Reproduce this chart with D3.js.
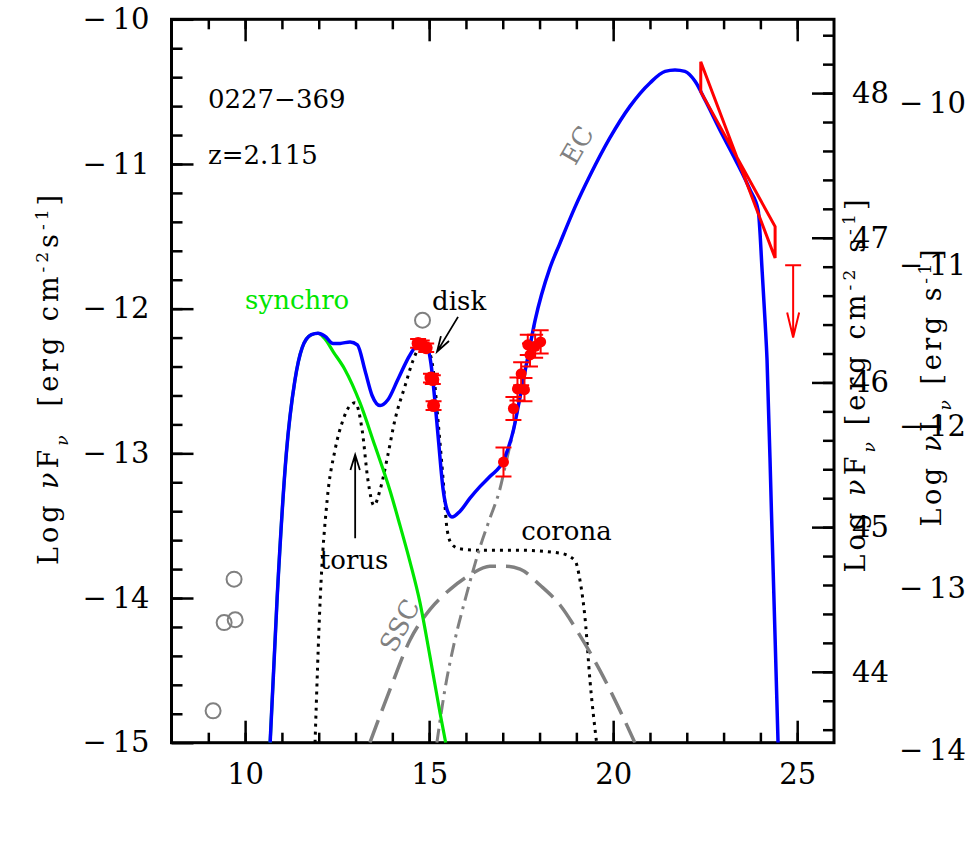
<!DOCTYPE html>
<html>
<head>
<meta charset="utf-8">
<script src="https://cdn.jsdelivr.net/npm/d3@7"></script>
<style>
body{margin:0;background:#fff;}
text{font-family:"DejaVu Serif",serif;fill:#000;white-space:pre;}
</style>
</head>
<body>
<script>
// log nu vs log nuFnu
var totX = [10.68,10.87,11.12,11.35,11.55,11.8,11.98,12.17,12.39,12.58,12.85,13.05,13.26,13.45,13.67,13.88,14.15,14.48,14.70,14.95,15.05,15.15,15.25,15.38,15.5,15.62,15.84,16.11,16.38,16.65,17.02,17.29,17.47,17.70,17.88,18.28,18.55,18.96,19.37,19.91,20.46,21.00,21.41,21.68,21.95,22.23,22.50,22.91,23.32,23.72,23.94,24.05,24.13,24.18,24.30,24.40,24.48];
var totY = [-15.0,-14.0,-13.0,-12.5,-12.27,-12.18,-12.17,-12.19,-12.24,-12.24,-12.23,-12.25,-12.43,-12.60,-12.67,-12.63,-12.49,-12.32,-12.25,-12.27,-12.38,-12.62,-12.9,-13.25,-13.40,-13.44,-13.40,-13.31,-13.23,-13.16,-13.05,-12.84,-12.61,-12.31,-12.08,-11.72,-11.55,-11.30,-11.08,-10.82,-10.60,-10.44,-10.36,-10.35,-10.36,-10.43,-10.56,-10.77,-10.97,-11.18,-11.32,-11.75,-12.10,-12.35,-13.40,-14.28,-15.0];

var synX = [10.68,10.87,11.12,11.35,11.55,11.8,11.98,12.17,12.4,12.71,13.12,13.53,13.94,14.21,14.48,14.75,15.02,15.30,15.45];
var synY = [-15,-14.0,-13.0,-12.5,-12.27,-12.18,-12.17,-12.21,-12.30,-12.42,-12.65,-12.95,-13.26,-13.50,-13.75,-14.03,-14.40,-14.80,-15.0];

var dotX = [11.9,12.04,12.23,12.44,12.66,12.85,12.99,13.18,13.34,13.50,13.67,13.88,14.07,14.35,14.56,14.75,14.97,15.11,15.24,15.38,15.49,15.62,15.84,16.38,17.47,18.56,18.96,19.10,19.24,19.37,19.55];
var dotY = [-15,-14.01,-13.32,-12.98,-12.77,-12.67,-12.65,-12.84,-13.19,-13.36,-13.25,-13.01,-12.77,-12.53,-12.36,-12.27,-12.29,-12.42,-12.77,-13.18,-13.53,-13.63,-13.66,-13.67,-13.67,-13.69,-13.74,-13.88,-14.15,-14.57,-15.0];

var sscX = [13.39,13.94,14.48,15.02,15.57,16.11,16.65,17.06,17.47,18.01,18.56,19.10,19.64,20.19,20.59];
var sscY = [-15,-14.63,-14.29,-14.08,-13.94,-13.84,-13.78,-13.78,-13.80,-13.91,-14.05,-14.26,-14.50,-14.78,-15.0];

var ecX = [15.21,15.43,15.70,15.98,16.38,16.65,16.92,17.1,17.29,17.47,17.70,17.88];
var ecY = [-15,-14.63,-14.29,-14.01,-13.65,-13.45,-13.25,-13.05,-12.84,-12.61,-12.31,-12.08];

var uvX = [14.70,14.80,14.92,15.05,15.10,15.12];
var uvY = [-12.24,-12.25,-12.27,-12.48,-12.49,-12.67];
var uvErr = [0.03,0.03,0.03,0.03,0.03,0.03];

var xrX = [17.02,17.29,17.40,17.50,17.59,17.68,17.74,17.88,18.03];
var xrY = [-13.06,-12.69,-12.555,-12.45,-12.56,-12.25,-12.32,-12.26,-12.23];
var xrErr = [0.10,0.08,0.08,0.08,0.08,0.07,0.08,0.08,0.08];

var archX = [9.13,9.43,9.73,9.70,14.82];
var archY = [-14.78,-14.17,-14.15,-13.87,-12.08];

var latX = [22.38,24.40];
var latHi = [-10.293,-11.433];
var latLo = [-10.50,-11.65];

var ulX = [24.89];
var ulY = [-11.70];
var ulTo = [-12.20];

var xMajor = [10,15,20,25];
var yMajor = [-15,-14,-13,-12,-11,-10];
var lMajor = [44,45,46,47,48];
var l2Major = [-14,-13,-12,-11,-10];

var svg = d3.select("body").append("svg").attr("width",975).attr("height",850);

var x = d3.scaleLinear().domain([8,26]).range([171.5,834]);
var y = d3.scaleLinear().domain([-15,-10]).range([742.7,19.3]);
var yL = d3.scaleLinear().domain([43.51,48.51]).range([742.7,19.3]);
var yL2 = d3.scaleLinear().domain([-14,-10]).range([750,102.5]);

var minus = function(d){ return d < 0 ? "\u2212\u2009" + Math.abs(d) : "" + d; };

function styleAxis(g, fs){
  g.select(".domain").remove();
  g.selectAll("line").attr("stroke","#000").attr("stroke-width",2.5);
  g.selectAll("text").style("font-family","DejaVu Serif").style("font-size",fs).attr("fill","#000");
}

// bottom and top
svg.append("g").attr("transform","translate(0,742.7)")
  .call(d3.axisBottom(x).tickValues(d3.range(9,26)).tickSize(-10).tickFormat(""))
  .call(styleAxis,"29px");
svg.append("g").attr("transform","translate(0,742.7)")
  .call(d3.axisBottom(x).tickValues(xMajor).tickSize(-22).tickPadding(21).tickFormat(d3.format("d")))
  .call(styleAxis,"29px");
svg.append("g").attr("transform","translate(0,19.3)")
  .call(d3.axisTop(x).tickValues(d3.range(9,26)).tickSize(-10).tickFormat(""))
  .call(styleAxis,"29px");
svg.append("g").attr("transform","translate(0,19.3)")
  .call(d3.axisTop(x).tickValues(xMajor).tickSize(-22).tickFormat(""))
  .call(styleAxis,"29px");

// left
svg.append("g").attr("transform","translate(171.5,0)")
  .call(d3.axisLeft(y).tickValues(d3.range(-14.8,-10.1,0.2)).tickSize(-11).tickFormat(""))
  .call(styleAxis,"29px");
svg.append("g").attr("transform","translate(171.5,0)")
  .call(d3.axisLeft(y).tickValues(yMajor).tickSize(-22).tickPadding(22).tickFormat(minus))
  .call(styleAxis,"29px");

// right (log nuLnu)
svg.append("g").attr("transform","translate(834,0)")
  .call(d3.axisRight(yL).tickValues(d3.range(43.6,48.5,0.2)).tickSize(-11).tickFormat(""))
  .call(styleAxis,"29px");
svg.append("g").attr("transform","translate(834,0)")
  .call(d3.axisRight(yL).tickValues(lMajor).tickSize(-22).tickPadding(18).tickFormat(d3.format("d")))
  .call(styleAxis,"29px");

// stray second right scale labels
svg.append("g").selectAll("text").data(l2Major).join("text")
  .attr("x",966).attr("y",function(d){ return yL2(d); }).attr("dy","0.35em")
  .attr("text-anchor","end").style("font-size","29px").text(minus);

// frame
svg.append("rect").attr("x",171.5).attr("y",19.3).attr("width",662.5).attr("height",723.4)
  .attr("fill","none").attr("stroke","#000").attr("stroke-width",3);

svg.append("clipPath").attr("id","plot").append("rect")
  .attr("x",171.5).attr("y",19.3).attr("width",662.5).attr("height",723.4);

var line = d3.line().x(function(d){ return x(d[0]); }).y(function(d){ return y(d[1]); }).curve(d3.curveMonotoneX);
var plot = svg.append("g").attr("clip-path","url(#plot)");

plot.append("path").attr("d",line(d3.zip(dotX,dotY))).attr("fill","none")
  .attr("stroke","#000").attr("stroke-width",3).attr("stroke-dasharray","3,5");
plot.append("path").attr("d",line(d3.zip(sscX,sscY))).attr("fill","none")
  .attr("stroke","#808080").attr("stroke-width",3.5).attr("stroke-dasharray","24,10");
plot.append("path").attr("d",line(d3.zip(ecX,ecY))).attr("fill","none")
  .attr("stroke","#808080").attr("stroke-width",3).attr("stroke-dasharray","14,6,3,6");
plot.append("path").attr("d",line(d3.zip(synX,synY))).attr("fill","none")
  .attr("stroke","#00e600").attr("stroke-width",3.2);
plot.append("path").attr("d",line(d3.zip(totX,totY))).attr("fill","none")
  .attr("stroke","#0000ff").attr("stroke-width",3.5);

// archival points
plot.selectAll("circle.arch").data(d3.zip(archX,archY)).join("circle").attr("class","arch")
  .attr("cx",function(d){ return x(d[0]); }).attr("cy",function(d){ return y(d[1]); }).attr("r",7.5)
  .attr("fill","none").attr("stroke","#808080").attr("stroke-width",2);

// red data with error bars
function errPoints(xs, ys, es, r){
  var data = d3.zip(xs,ys,es);
  var g = plot.append("g");
  g.selectAll("path").data(data).join("path")
    .attr("d",function(d){
      var cx = x(d[0]), y0 = y(d[1]-d[2]), y1 = y(d[1]+d[2]);
      return "M"+cx+","+y0+"V"+y1+"M"+(cx-8)+","+y0+"H"+(cx+8)+"M"+(cx-8)+","+y1+"H"+(cx+8);
    })
    .attr("stroke","#ff0000").attr("stroke-width",2).attr("fill","none");
  g.selectAll("circle").data(data).join("circle")
    .attr("cx",function(d){ return x(d[0]); }).attr("cy",function(d){ return y(d[1]); })
    .attr("r",r).attr("fill","#ff0000");
}
errPoints(uvX,uvY,uvErr,6.5);
errPoints(xrX,xrY,xrErr,5.5);

// Fermi bow-tie
plot.selectAll("path.bt").data([0]).join("path").attr("class","bt")
  .attr("d","M"+x(latX[0])+","+y(latHi[0])+"L"+x(latX[1])+","+y(latLo[1])+"L"+x(latX[1])+","+y(latHi[1])+"L"+x(latX[0])+","+y(latLo[0])+"Z")
  .attr("fill","none").attr("stroke","#ff0000").attr("stroke-width",3);

// upper limit
plot.selectAll("path.ul").data(d3.zip(ulX,ulY,ulTo)).join("path").attr("class","ul")
  .attr("d",function(d){
    var cx = x(d[0]), a = y(d[1]), b = y(d[2]);
    return "M"+(cx-8)+","+a+"H"+(cx+8)+"M"+cx+","+a+"V"+b+"M"+(cx-6)+","+(b-25)+"L"+cx+","+b+"L"+(cx+6)+","+(b-25);
  })
  .attr("fill","none").attr("stroke","#ff0000").attr("stroke-width",2);

// annotation arrows
var arrFrom = [[15.785,-12.057],[12.99,-13.587]];
var arrTo = [[15.215,-12.297],[12.99,-13.01]];
svg.append("g").selectAll("path").data(d3.zip(arrFrom,arrTo)).join("path")
  .attr("d",function(d){
    var x0 = x(d[0][0]), y0 = y(d[0][1]), x1 = x(d[1][0]), y1 = y(d[1][1]);
    var ang = Math.atan2(y1-y0,x1-x0), L = 16, s = 0.3;
    return "M"+x0+","+y0+"L"+x1+","+y1+
      "M"+(x1-L*Math.cos(ang-s))+","+(y1-L*Math.sin(ang-s))+"L"+x1+","+y1+
      "L"+(x1-L*Math.cos(ang+s))+","+(y1-L*Math.sin(ang+s));
  })
  .attr("fill","none").attr("stroke","#000").attr("stroke-width",1.8);

// labels
var annoText = ["0227\u2212369","z=2.115","synchro","disk","torus","corona","EC","SSC"];
var annoX = [8.99,8.99,10.0,15.08,12.03,17.5,19.02,14.2];
var annoY = [-10.61,-11.0,-12.0,-12.01,-13.80,-13.60,-10.87,-14.19];
var annoColor = ["#000","#000","#00e600","#000","#000","#000","#808080","#808080"];
var annoRot = [0,0,0,0,0,0,-60,-62];
var annoAnchor = ["start","start","start","start","start","start","middle","middle"];
svg.append("g").selectAll("text").data(annoText).join("text")
  .attr("transform",function(d,i){ return "translate("+x(annoX[i])+","+y(annoY[i])+") rotate("+annoRot[i]+")"; })
  .attr("dy",function(d,i){ return annoRot[i] ? "0.35em" : 0; })
  .attr("text-anchor",function(d,i){ return annoAnchor[i]; })
  .style("font-size","26px").style("fill",function(d,i){ return annoColor[i]; })
  .text(function(d){ return d; });

// axis titles
function fluxTitle(sel, q, unit){
  sel.append("tspan").text("Log ");
  sel.append("tspan").style("font-style","italic").text("\u03bd");
  sel.append("tspan").text(q);
  sel.append("tspan").attr("baseline-shift","sub").style("font-size","17px").style("font-style","italic").text("\u03bd");
  unit(sel);
}
var lt = svg.append("text").attr("transform","translate(58,380) rotate(-90)").attr("text-anchor","middle")
  .attr("textLength",370).attr("lengthAdjust","spacing").style("font-size","27px");
fluxTitle(lt,"F",function(s){
  s.append("tspan").text("  [erg cm");
  s.append("tspan").attr("baseline-shift","super").style("font-size","17px").text("-2");
  s.append("tspan").text("s");
  s.append("tspan").attr("baseline-shift","super").style("font-size","17px").text("-1");
  s.append("tspan").text("]");
});
var rt = svg.append("text").attr("transform","translate(865,386) rotate(-90)").attr("text-anchor","middle")
  .attr("textLength",373).attr("lengthAdjust","spacing").style("font-size","27px");
fluxTitle(rt,"F",function(s){
  s.append("tspan").text(" [erg cm");
  s.append("tspan").attr("baseline-shift","super").style("font-size","17px").text("-2");
  s.append("tspan").text(" s");
  s.append("tspan").attr("baseline-shift","super").style("font-size","17px").text("-1");
  s.append("tspan").text("]");
});
var rt2 = svg.append("text").attr("transform","translate(941,388) rotate(-90)").attr("text-anchor","middle")
  .attr("textLength",277).attr("lengthAdjust","spacing").style("font-size","27px");
fluxTitle(rt2,"L",function(s){
  s.append("tspan").text(" [erg s");
  s.append("tspan").attr("baseline-shift","super").style("font-size","17px").text("-1");
  s.append("tspan").text("]");
});
</script>
</body>
</html>
